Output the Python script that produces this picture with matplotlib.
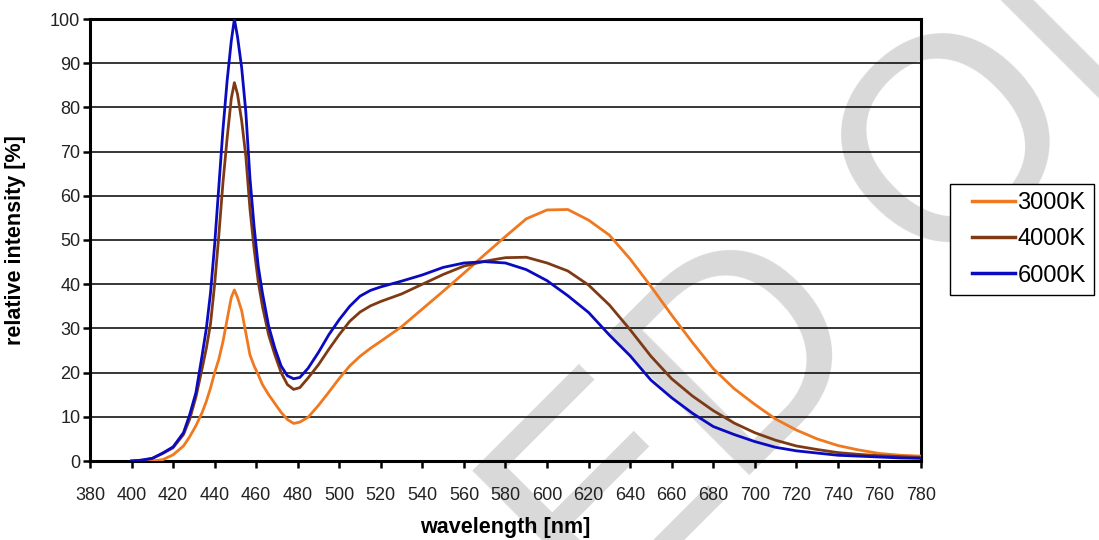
import matplotlib
matplotlib.use("Agg")
import matplotlib.pyplot as plt
from matplotlib.lines import Line2D
from matplotlib.legend_handler import HandlerLine2D

plt.rcParams['font.family'] = ['Liberation Sans', 'DejaVu Sans']

wavelength = [400, 405, 410, 415, 420, 425, 428, 431, 434, 436, 438, 440, 442, 444,
              446, 448, 449.5, 451, 453, 455, 457, 459, 461, 463, 466, 469, 472, 475,
              478, 481, 485, 490, 495, 500, 505, 510, 515, 520, 530, 540, 550, 560,
              570, 580, 590, 600, 610, 620, 630, 640, 650, 660, 670, 680, 690, 700,
              710, 720, 730, 740, 750, 760, 770, 780]

k3000 = [0, 0, 0, 0.3, 1.4, 3.4, 5.5, 8, 11, 13.5, 16.5, 20, 23, 27,
         32, 37, 38.7, 37, 34, 29, 24, 21.5, 19.5, 17.3, 15, 13, 11, 9.4,
         8.5, 8.8, 9.9, 12.6, 15.6, 18.7, 21.5, 23.7, 25.5, 27.1, 30.4, 34.4, 38.4, 42.5,
         46.7, 50.8, 54.8, 56.8, 56.9, 54.5, 51.1, 45.7, 39.5, 33.0, 26.8, 20.9, 16.4, 12.8,
         9.5, 7.0, 5.0, 3.5, 2.5, 1.7, 1.3, 1.1]

k4000 = [0, 0.2, 0.6, 1.7, 3.0, 6.0, 9.5, 14.5, 21, 25.5, 31, 40, 51, 63,
         73, 82, 85.6, 83, 77, 69, 57, 48, 40.5, 35, 28.5, 24, 20, 17.3,
         16.2, 16.6, 18.8, 21.8, 25.3, 28.6, 31.6, 33.7, 35.1, 36.1, 37.8, 40.0, 42.2, 44.1,
         45.2, 46.0, 46.1, 44.8, 43.0, 39.8, 35.3, 29.7, 23.7, 18.6, 14.7, 11.4, 8.6, 6.4,
         4.7, 3.4, 2.6, 1.9, 1.5, 1.2, 1.0, 0.8]

k6000 = [0, 0.2, 0.6, 1.8, 3.2, 6.4, 10.5, 15.5, 24, 30, 38, 49, 62, 75,
         86, 95, 100, 96, 89, 79, 64, 53, 44, 38, 30.5, 25.5, 21.5, 19.3,
         18.6, 18.9, 21.0, 24.6, 28.6, 32.0, 35.0, 37.3, 38.6, 39.4, 40.7, 42.1, 43.8, 44.8,
         45.1, 44.8, 43.3, 40.8, 37.4, 33.6, 28.5, 23.8, 18.3, 14.3, 10.8, 7.8, 6.0, 4.4,
         3.1, 2.3, 1.8, 1.3, 1.1, 0.9, 0.7, 0.6]

series_names = ['3000K', '4000K', '6000K']
series_colors = ['#F0781F', '#7E3A14', '#0A0AC0']
x_ticks = list(range(380, 781, 20))
y_ticks = list(range(0, 101, 10))

W, H = 1099, 540
fig = plt.figure(figsize=(W / 100, H / 100), dpi=100)
fig.patch.set_facecolor('white')

# watermark (behind everything)
fig.text(597 / W, (H - 628) / H, 'ED ONLY', fontsize=208, color='#d9d9d9',
         rotation=45, rotation_mode='anchor', ha='left', va='baseline',
         zorder=-5)

ax = fig.add_axes([90 / W, (H - 461) / H, 831 / W, 442 / H])
ax.patch.set_alpha(0)

for vals, name, col in zip([k3000, k4000, k6000], series_names, series_colors):
    ax.plot(wavelength, vals, color=col, lw=2.0, label=name, zorder=3)

ax.set_xlim(380, 780)
ax.set_ylim(0, 100)
ax.set_xticks(x_ticks)
ax.set_yticks(y_ticks)
ax.yaxis.grid(True, color='black', lw=1.1)
ax.set_axisbelow(True)
for s in ax.spines.values():
    s.set_linewidth(2.2)
    s.set_color('black')
ax.tick_params(axis='both', direction='out', length=5, width=1.8, colors='black',
               labelsize=13, labelcolor='#222222')
ax.tick_params(axis='x', pad=14)
ax.tick_params(axis='y', pad=2)

ax.set_xlabel('wavelength [nm]', fontsize=15.5, fontweight='bold')
ax.xaxis.set_label_coords(0.5, (461 - 517) / 442)
ax.set_ylabel('relative intensity [%]', fontsize=15.5, fontweight='bold')
ax.yaxis.set_label_coords((26 - 90) / 831, 0.5)

handles = [Line2D([0], [0], color=c, lw=2.5) for c in series_colors]
hmap = {h: HandlerLine2D(xpad=0.58) for h in handles}
leg = ax.legend(handles, series_names, loc='upper left',
                bbox_to_anchor=(950 / W, (H - 184) / H), bbox_transform=fig.transFigure,
                frameon=True, fancybox=False, edgecolor='black', framealpha=1,
                borderaxespad=0, fontsize=17, handlelength=2.4, handletextpad=0.1,
                labelspacing=0.6, borderpad=0.35, handler_map=hmap)
leg.get_frame().set_linewidth(1.0)

fig.savefig('out.png', dpi=100)
